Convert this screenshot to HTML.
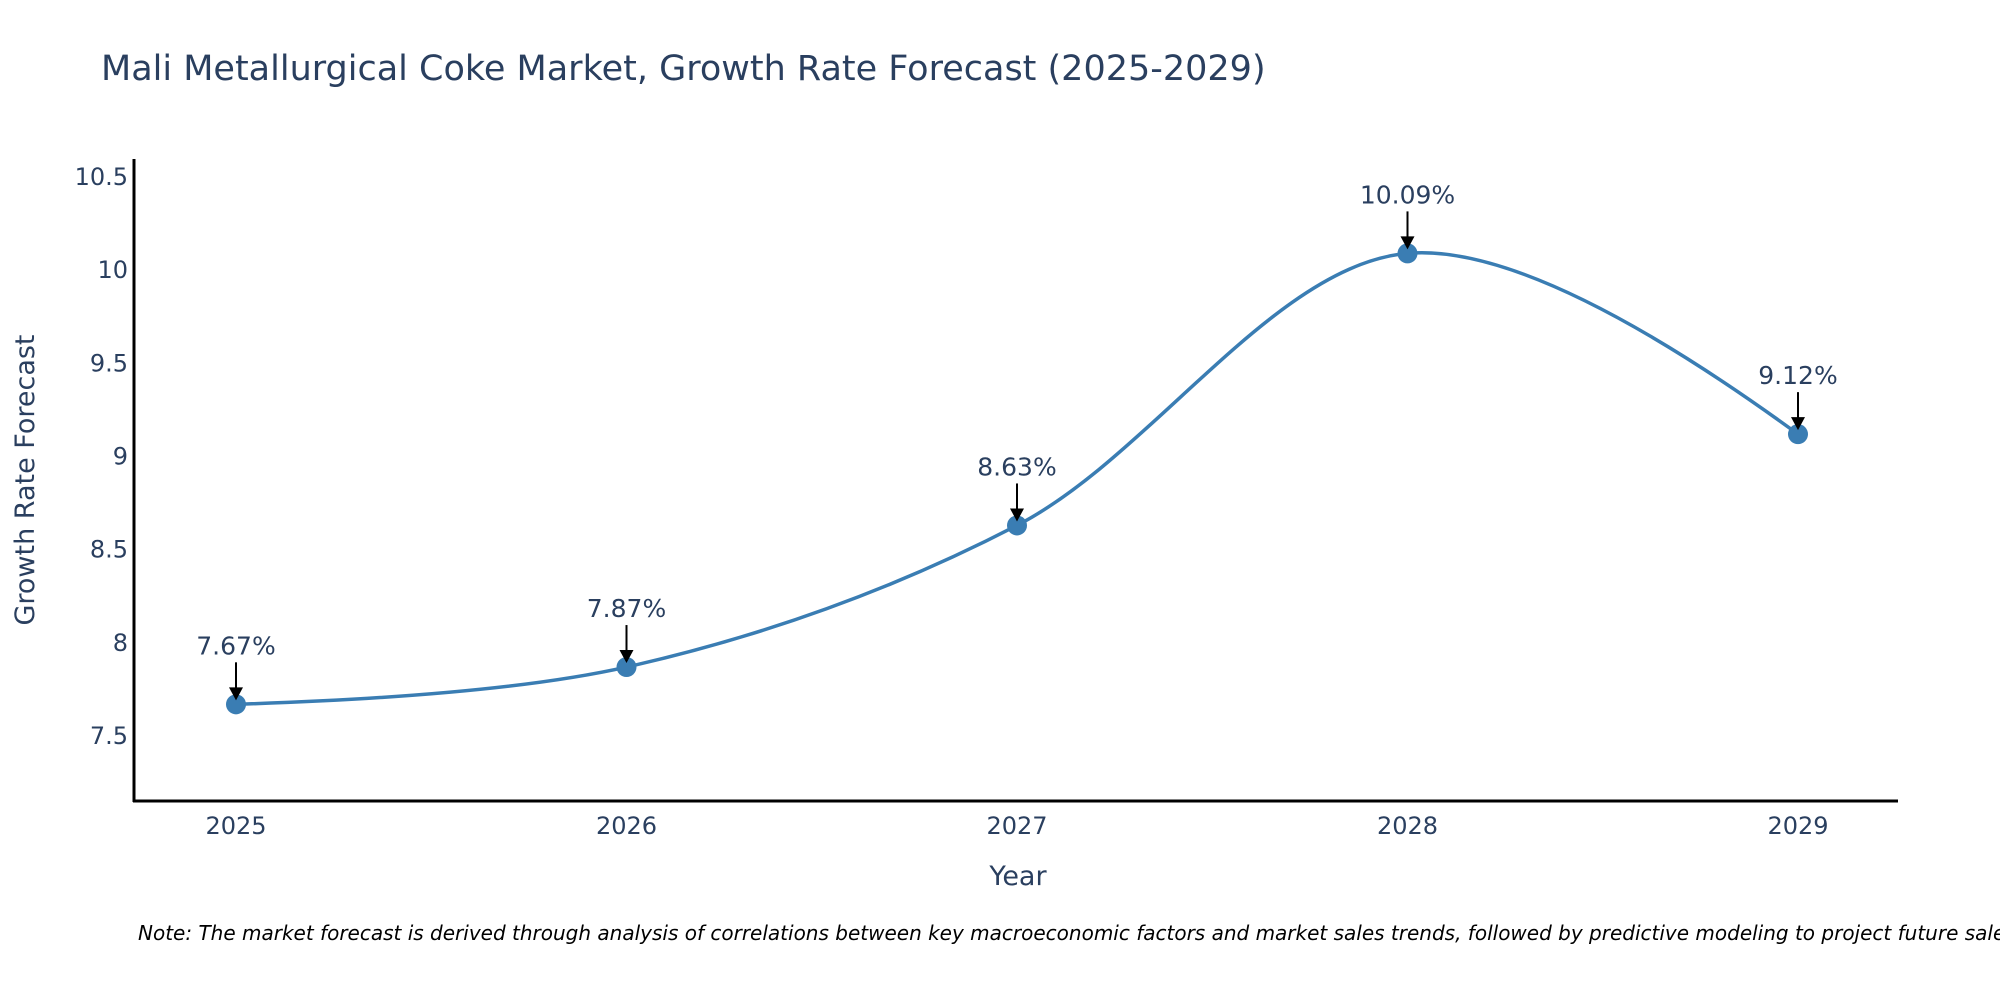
<!DOCTYPE html>
<html><head><meta charset="utf-8"><style>
html,body{margin:0;padding:0;background:#fff;}
svg{display:block;font-family:"DejaVu Sans","Liberation Sans",sans-serif;}
</style></head><body>
<svg id="chart" width="2000" height="1000" viewBox="0 0 2000 1000">
<text x="101" y="80" font-size="35" fill="#2a3f5f">Mali Metallurgical Coke Market, Growth Rate Forecast (2025-2029)</text>
<g id="yticks"></g>
<g id="xticks"></g>
<path id="line" fill="none" stroke="#3a7db3" stroke-width="3.5"/>
<g id="points"></g>
<g id="annots"></g>
<line x1="134" y1="159" x2="134" y2="802" stroke="#000" stroke-width="3"/>
<line x1="133" y1="801" x2="1898" y2="801" stroke="#000" stroke-width="3"/>
<text transform="translate(34,480) rotate(-90)" text-anchor="middle" font-size="27" fill="#2a3f5f">Growth Rate Forecast</text>
<text x="1018" y="885" text-anchor="middle" font-size="27" fill="#2a3f5f">Year</text>
<text x="138" y="940" font-size="20" font-style="italic" fill="#000">Note: The market forecast is derived through analysis of correlations between key macroeconomic factors and market sales trends, followed by predictive modeling to project future sales.</text>
</svg>
<script>
const years = [2025, 2026, 2027, 2028, 2029];
const rates = [7.67, 7.87, 8.63, 10.09, 9.12];
const yTicks = [7.5, 8, 8.5, 9, 9.5, 10, 10.5];
const yTickLabels = ["7.5", "8", "8.5", "9", "9.5", "10", "10.5"];

const NS = "http://www.w3.org/2000/svg";
const X0 = 236, X1 = 1798, PY_TOP = 177, PY_BOT = 736;
function xs(v){ return X0 + (v - years[0]) / (years[years.length-1] - years[0]) * (X1 - X0); }
function ys(v){ return PY_BOT - (v - 7.5) / 3 * (PY_BOT - PY_TOP); }
function mk(tag, attrs, parent){ const e = document.createElementNS(NS, tag); for (const k in attrs) e.setAttribute(k, attrs[k]); parent.appendChild(e); return e; }

const yt = document.getElementById('yticks');
yTicks.forEach((v, i) => {
  const t = mk('text', {x: 128, y: ys(v) + 8, 'text-anchor': 'end', 'font-size': 24, fill: '#2a3f5f'}, yt);
  
  
  t.textContent = yTickLabels[i];
});
const xt = document.getElementById('xticks');
years.forEach(v => {
  const t = mk('text', {x: xs(v), y: 834, 'text-anchor': 'middle', 'font-size': 24, fill: '#2a3f5f'}, xt);
  
  
  t.textContent = String(v);
});

// plotly-style spline
const pts = years.map((y, i) => [xs(y), ys(rates[i])]);
function makeTangent(p0, p1, p2, sm) {
  const d1x = p0[0]-p1[0], d1y = p0[1]-p1[1], d2x = p2[0]-p1[0], d2y = p2[1]-p1[1];
  const d1a = Math.pow(d1x*d1x + d1y*d1y, 0.25), d2a = Math.pow(d2x*d2x + d2y*d2y, 0.25);
  const numx = (d2a*d2a*d1x - d1a*d1a*d2x) * sm, numy = (d2a*d2a*d1y - d1a*d1a*d2y) * sm;
  const den1 = 3*d2a*(d1a+d2a), den2 = 3*d1a*(d1a+d2a);
  return [[p1[0]+numx/den1, p1[1]+numy/den1], [p1[0]-numx/den2, p1[1]-numy/den2]];
}
const tg = [];
for (let i = 1; i < pts.length - 1; i++) tg.push(makeTangent(pts[i-1], pts[i], pts[i+1], 1));
let d = `M${pts[0]}Q${tg[0][0]} ${pts[1]}`;
for (let i = 2; i < pts.length - 1; i++) d += `C${tg[i-2][1]} ${tg[i-1][0]} ${pts[i]}`;
d += `Q${tg[pts.length-3][1]} ${pts[pts.length-1]}`;
document.getElementById('line').setAttribute('d', d);

const pg = document.getElementById('points');
const ag = document.getElementById('annots');
pts.forEach((p, i) => {
  const c = mk('circle', {cx: p[0], cy: p[1], r: 10, fill: '#3a7db3'}, pg);
  
  
  const l = mk('line', {x1: p[0], y1: p[1] - 42, x2: p[0], y2: p[1] - 14, stroke: '#000', 'stroke-width': 2}, ag);
  
  
  const h = mk('polygon', {points: `${p[0]-7},${p[1]-17} ${p[0]+7},${p[1]-17} ${p[0]},${p[1]-4}`, fill: '#000'}, ag);
  
  
  const t = mk('text', {x: p[0], y: p[1] - 50, 'text-anchor': 'middle', 'font-size': 25, fill: '#2a3f5f'}, ag);
  
  
  t.textContent = rates[i].toFixed(2) + '%';
});
</script>
</body></html>
